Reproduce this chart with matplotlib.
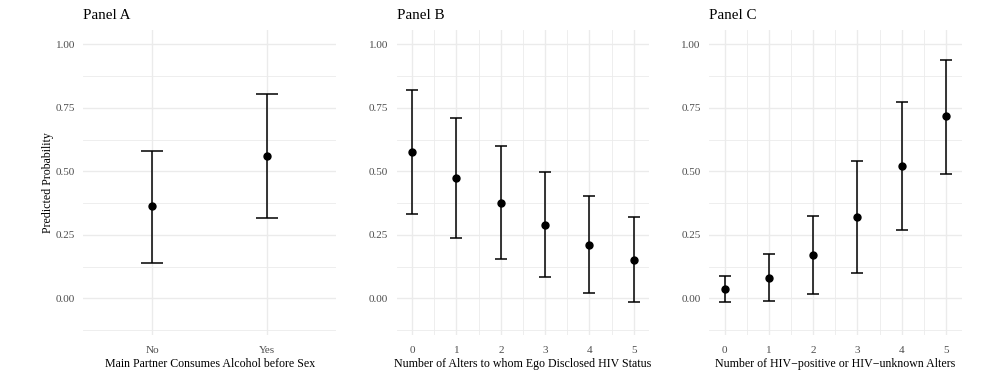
import matplotlib
matplotlib.use("Agg")
import numpy as np
import matplotlib.pyplot as plt
from matplotlib.ticker import MultipleLocator

plt.rcParams['font.family'] = ['Liberation Serif', 'DejaVu Serif']

# Panel A: main partner alcohol use
a_labels = ["No", "Yes"]
a_est = [0.362, 0.560]
a_low = [0.140, 0.315]
a_high = [0.579, 0.803]

# Panel B: number of alters told about HIV status
b_x = [0, 1, 2, 3, 4, 5]
b_est = [0.575, 0.474, 0.375, 0.287, 0.210, 0.151]
b_low = [0.331, 0.239, 0.156, 0.083, 0.021, -0.016]
b_high = [0.820, 0.709, 0.598, 0.496, 0.404, 0.321]

# Panel C: number of HIV-positive / unknown alters
c_x = [0, 1, 2, 3, 4, 5]
c_est = [0.035, 0.081, 0.169, 0.320, 0.522, 0.717]
c_low = [-0.016, -0.011, 0.017, 0.100, 0.270, 0.491]
c_high = [0.087, 0.174, 0.325, 0.542, 0.774, 0.938]

grid_col = "#EBEBEB"
tick_col = "#4D4D4D"

fig = plt.figure(figsize=(9.85, 3.8), dpi=100)
lefts = [0.0846, 0.4027, 0.7198]
axes = [fig.add_axes([l, 0.118, 0.2565, 0.803]) for l in lefts]


def style(ax, title, xlabel):
    for s in ax.spines.values():
        s.set_visible(False)
    ax.set_ylim(-0.145, 1.056)
    ax.yaxis.set_major_locator(MultipleLocator(0.25))
    ax.yaxis.set_minor_locator(MultipleLocator(0.125))
    ax.yaxis.set_major_formatter(matplotlib.ticker.FormatStrFormatter('%.2f'))
    ax.grid(which='major', color=grid_col, lw=1.0)
    ax.grid(which='minor', color=grid_col, lw=0.6)
    ax.set_axisbelow(True)
    ax.tick_params(which='both', length=0, labelsize=8, labelcolor=tick_col)
    ax.tick_params(axis='x', pad=8)
    ax.tick_params(axis='y', pad=6)
    ax.set_xlabel(xlabel, fontsize=8.6, labelpad=2)
    ax.set_title(title, loc='left', fontsize=10.8, pad=8, x=0)


def draw(ax, x, est, low, high, cap):
    est = np.array(est)
    err = [est - np.array(low), np.array(high) - est]
    ax.errorbar(x, est, yerr=err, fmt='o', color='black', ms=5,
                elinewidth=1.1, capsize=cap, capthick=1.1)


ax = axes[0]
pos = np.arange(1, len(a_labels) + 1)
draw(ax, pos, a_est, a_low, a_high, 8)
ax.set_xlim(0.4, 2.6)
ax.set_xticks(pos)
ax.set_xticklabels(a_labels)
ax.xaxis.set_minor_locator(matplotlib.ticker.NullLocator())
style(ax, "Panel A", "Main Partner Consumes Alcohol before Sex")
ax.set_ylabel("Predicted Probability", fontsize=8.6, labelpad=1)

ax = axes[1]
draw(ax, b_x, b_est, b_low, b_high, 4)
ax.set_xlim(-0.35, 5.35)
ax.xaxis.set_major_locator(MultipleLocator(1))
ax.xaxis.set_minor_locator(MultipleLocator(0.5))
style(ax, "Panel B", "Number of Alters to whom Ego Disclosed HIV Status")

ax = axes[2]
draw(ax, c_x, c_est, c_low, c_high, 4)
ax.set_xlim(-0.35, 5.35)
ax.xaxis.set_major_locator(MultipleLocator(1))
ax.xaxis.set_minor_locator(MultipleLocator(0.5))
style(ax, "Panel C", "Number of HIV\u2212positive or HIV\u2212unknown Alters")

fig.savefig("out.png", dpi=100)
